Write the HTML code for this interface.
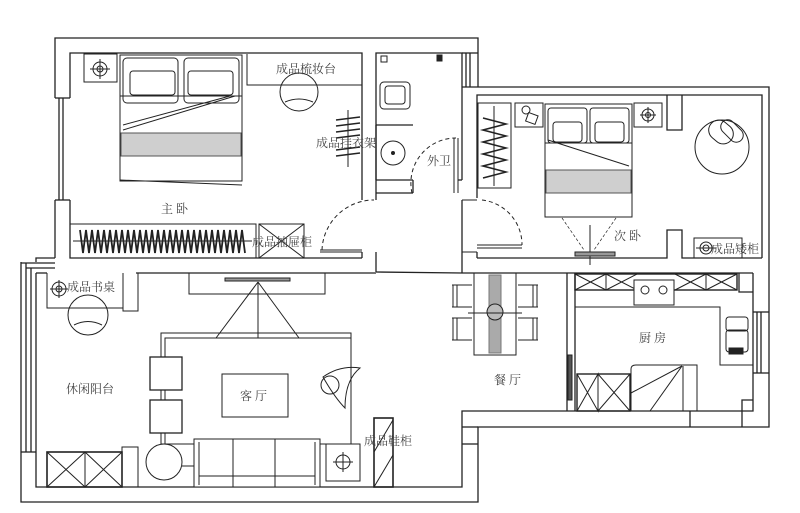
<!DOCTYPE html>
<html><head><meta charset="utf-8"><style>
html,body{margin:0;padding:0;background:#fff;}
svg{display:block;}
text{font-family:"Liberation Serif","Noto Serif CJK SC","Noto Sans CJK SC",serif;font-size:12px;fill:#444;}
</style></head><body>
<svg width="800" height="513" viewBox="0 0 800 513" xmlns="http://www.w3.org/2000/svg">
<g fill="none" stroke="#222" stroke-width="1.3">
<!-- master bedroom / bathroom outer -->
<polyline points="55,98 55,38 478,38 478,87"/>
<polyline points="70,98 70,53 362,53 362,200"/>
<line x1="362" y1="252" x2="362" y2="258"/>
<polyline points="70,200 70,258 362,258"/>
<polyline points="55,200 55,258"/>
<line x1="55" y1="98" x2="70" y2="98"/><line x1="55" y1="200" x2="70" y2="200"/>
<line x1="59" y1="98" x2="59" y2="200"/><line x1="63" y1="98" x2="63" y2="200"/>
<!-- bathroom -->
<polyline points="376,200 376,53 462,53 462,87"/>
<line x1="376" y1="252" x2="376" y2="272"/>
<line x1="376" y1="180" x2="413" y2="180"/>
<line x1="376" y1="193" x2="413" y2="193"/>
<line x1="413" y1="180" x2="413" y2="193"/>
<line x1="462" y1="53" x2="478" y2="53"/>
<line x1="466" y1="53" x2="466" y2="87"/><line x1="470" y1="53" x2="470" y2="87"/>
<line x1="376" y1="125" x2="413" y2="125"/><line x1="376" y1="180" x2="376" y2="125"/>
<!-- second bedroom -->
<polyline points="462,87 769,87 769,268"/>
<polyline points="477,198 477,95 682,95"/>
<line x1="462" y1="87" x2="462" y2="180"/>
<line x1="462" y1="200" x2="462" y2="273"/>
<line x1="477" y1="252" x2="477" y2="258"/>
<polyline points="667,95 667,130 682,130 682,95"/>
<polyline points="682,95 682,95 762,95 762,258"/>
<polyline points="477,258 667,258 667,230 682,230 682,258 762,258"/>
<line x1="458" y1="180" x2="462" y2="180"/>
<!-- master bottom / living top -->
<polyline points="36,262 36,258 55,258"/>
<polyline points="136,273 376,273"/>
<polyline points="36,273 47,273"/>
<polyline points="376,272 462,273"/>
<!-- living outer -->
<polyline points="21,262 21,502 478,502 478,427 769,427 769,268"/>
<polyline points="36,273 36,487 462,487 462,411 753,411 753,273"/>
<line x1="21" y1="452" x2="36" y2="452"/>
<line x1="26" y1="263" x2="26" y2="452"/><line x1="31" y1="268" x2="31" y2="452"/>
<line x1="21" y1="263" x2="55" y2="263"/><line x1="26" y1="268" x2="55" y2="268"/>
<line x1="462" y1="444" x2="478" y2="444"/><line x1="462" y1="427" x2="478" y2="427"/>
<!-- kitchen -->
<line x1="462" y1="273" x2="753" y2="273"/>
<line x1="567" y1="273" x2="567" y2="411"/><line x1="575" y1="273" x2="575" y2="411"/>
<line x1="753" y1="312" x2="769" y2="312"/><line x1="753" y1="373" x2="769" y2="373"/>
<line x1="757" y1="312" x2="757" y2="373"/><line x1="761" y1="312" x2="761" y2="373"/>
<line x1="690" y1="411" x2="690" y2="427"/><line x1="742" y1="411" x2="742" y2="427"/>
<polyline points="742,411 742,400 753,400"/>
<polyline points="739,273 739,292 753,292"/>
</g>

<g fill="none" stroke="#222" stroke-width="1">
<!-- master nightstand -->
<rect x="84" y="54" width="33" height="28"/>
<circle cx="100" cy="69" r="7"/><circle cx="100" cy="69" r="3"/>
<line x1="90" y1="69" x2="110" y2="69"/><line x1="100" y1="59" x2="100" y2="79"/>
<!-- master bed -->
<rect x="120" y="55" width="122" height="126"/>
<rect x="123" y="58" width="55" height="45" rx="4"/><rect x="184" y="58" width="55" height="45" rx="4"/>
<rect x="130" y="71" width="45" height="24" rx="3"/><rect x="188" y="71" width="45" height="24" rx="3"/>
<line x1="120" y1="96" x2="242" y2="96"/>
<line x1="123" y1="130" x2="235" y2="96"/><line x1="123" y1="125" x2="230" y2="96"/>
<rect x="121" y="133" width="120" height="23" fill="#cfcfcf" stroke="#555"/>
<line x1="120" y1="180" x2="242" y2="185"/>
<!-- dressing table -->
<polyline points="247,54 247,85 362,85"/>
<circle cx="299" cy="92" r="19"/>
<path d="M285,102 Q299,96 313,102"/>
<!-- clothes rack -->
<line x1="348" y1="110" x2="348" y2="167"/>
<g stroke-width="1.6">
<line x1="336" y1="120" x2="360" y2="117"/><line x1="336" y1="126" x2="360" y2="123"/>
<line x1="336" y1="132" x2="360" y2="129"/><line x1="336" y1="138" x2="360" y2="135"/>
<line x1="336" y1="150" x2="360" y2="147"/><line x1="336" y1="156" x2="360" y2="153"/>
</g>
<!-- wardrobe -->
<rect x="70" y="224" width="186" height="34"/>
<line x1="73" y1="241" x2="252" y2="241"/>
<path d="M80,230 L83,253 L86,230 L89,253 L92,230 L95,253 L98,230 L101,253 L104,230 L107,253 L110,230 L113,253 L116,230 L119,253 L122,230 L125,253 L128,230 L131,253 L134,230 L137,253 L140,230 L143,253 L146,230 L149,253 L152,230 L155,253 L158,230 L161,253 L164,230 L167,253 L170,230 L173,253 L176,230 L179,253 L182,230 L185,253 L188,230 L191,253 L194,230 L197,253 L200,230 L203,253 L206,230 L209,253 L212,230 L215,253 L218,230 L221,253 L224,230 L227,253 L230,230 L233,253 L236,230 L239,253 L242,230 L245,253" stroke-width="1.8"/>
<rect x="259" y="224" width="45" height="34"/>
<line x1="259" y1="224" x2="304" y2="258"/><line x1="304" y1="224" x2="259" y2="258"/>
<!-- master door -->
<path d="M322,250 A52,52 0 0 1 374,200" stroke-dasharray="4,3"/>
<line x1="320" y1="250" x2="362" y2="250"/><line x1="320" y1="252" x2="362" y2="252"/>
<!-- bathroom fixtures -->
<rect x="380" y="82" width="30" height="27" rx="4"/>
<rect x="385" y="86" width="20" height="18" rx="3"/>
<circle cx="393" cy="153" r="12"/><circle cx="393" cy="153" r="1.5" fill="#222"/>
<rect x="437" y="55" width="5" height="6" fill="#222"/>
<rect x="381" y="56" width="6" height="6"/>
<path d="M412,193 A45,45 0 0 1 456,138" stroke-dasharray="4,3"/>
<line x1="454" y1="138" x2="454" y2="193"/><line x1="458" y1="138" x2="458" y2="193"/>
<!-- 2nd bedroom wardrobe -->
<rect x="478" y="103" width="33" height="85"/>
<line x1="494" y1="106" x2="494" y2="186"/>
<path d="M483,118 L506,124 L483,130 L506,136 L483,142 L506,148 L483,154 L506,160 L483,166 L506,172 L483,178" stroke-width="1.6"/>
<rect x="515" y="103" width="28" height="24"/>
<circle cx="526" cy="110" r="4"/>
<rect x="527" y="114" width="10" height="9" transform="rotate(20 532 118)"/>
<rect x="545" y="104" width="87" height="113"/>
<rect x="548" y="108" width="39" height="35" rx="3"/><rect x="590" y="108" width="39" height="35" rx="3"/>
<rect x="553" y="122" width="29" height="20" rx="3"/><rect x="595" y="122" width="29" height="20" rx="3"/>
<line x1="545" y1="143" x2="632" y2="143"/>
<line x1="548" y1="140" x2="629" y2="166"/>
<rect x="546" y="170" width="85" height="23" fill="#cfcfcf" stroke="#555"/>
<rect x="634" y="103" width="28" height="24"/>
<circle cx="648" cy="115" r="6"/><circle cx="648" cy="115" r="2.5"/>
<line x1="640" y1="115" x2="656" y2="115"/><line x1="648" y1="107" x2="648" y2="123"/>
<line x1="562" y1="218" x2="584" y2="250" stroke-dasharray="3,2" stroke-width=".7"/>
<line x1="616" y1="218" x2="594" y2="250" stroke-dasharray="3,2" stroke-width=".7"/>
<line x1="590" y1="225" x2="590" y2="265"/>
<rect x="575" y="252" width="40" height="4" fill="#999"/>
<!-- armchair -->
<circle cx="722" cy="147" r="27"/>
<rect x="708" y="122" width="26" height="20" rx="10" transform="rotate(40 721 132)"/>
<rect x="725" y="118" width="14" height="26" rx="7" transform="rotate(-45 732 131)"/>
<!-- low cabinet -->
<rect x="694" y="238" width="48" height="20"/>
<circle cx="706" cy="248" r="6"/><circle cx="706" cy="248" r="3"/>
<line x1="696" y1="248" x2="716" y2="248"/>
<!-- 2nd bedroom door -->
<path d="M482,200 A45,45 0 0 1 522,245" stroke-dasharray="4,3"/>
<line x1="477" y1="245" x2="522" y2="245"/><line x1="477" y1="248" x2="522" y2="248"/>
<line x1="462" y1="200" x2="477" y2="200"/><line x1="462" y1="252" x2="477" y2="252"/>
<!-- dining -->
<rect x="474" y="273" width="42" height="82"/>
<rect x="489" y="275" width="12" height="78" fill="#aaa" stroke="#777"/>
<circle cx="495" cy="312" r="8" fill="#bbb"/>
<line x1="468" y1="313" x2="522" y2="313"/>
<path d="M452,285 H472 M452,307 H472 M453,285 V307 M457,285 V307"/>
<path d="M452,318 H472 M452,340 H472 M453,318 V340 M457,318 V340"/>
<path d="M538,285 H518 M538,307 H518 M537,285 V307 M533,285 V307"/>
<path d="M538,318 H518 M538,340 H518 M537,318 V340 M533,318 V340"/>
<!-- kitchen furniture -->
<rect x="575" y="274" width="162" height="16" stroke-width="1.4"/>
<path d="M575,274 L606,290 L637,274 M575,290 L606,274 L637,290 M675,274 L706,290 L737,274 M675,290 L706,274 L737,290"/>
<line x1="606" y1="274" x2="606" y2="290"/><line x1="706" y1="274" x2="706" y2="290"/>
<rect x="634" y="280" width="40" height="25" fill="#fff"/>
<circle cx="645" cy="290" r="4"/><circle cx="663" cy="290" r="4"/>
<polyline points="575,307 720,307 720,365 753,365"/>
<rect x="726" y="317" width="22" height="14" rx="3"/>
<rect x="726" y="330" width="22" height="22" rx="3"/>
<rect x="729" y="348" width="14" height="6" fill="#222"/>
<rect x="577" y="374" width="53" height="37" stroke-width="1.4"/>
<path d="M577,374 L598,411 L598,374 L577,411 M598,374 L630,411 M630,374 L598,411"/>
<path d="M631,411 V369 Q631,365 636,365 H697 V411"/>
<line x1="631" y1="393" x2="682" y2="366"/><line x1="650" y1="411" x2="682" y2="366"/>
<line x1="683" y1="366" x2="683" y2="411"/>
<rect x="568" y="355" width="4" height="45" fill="#555"/>
<!-- study desk -->
<polyline points="47,273 47,308 123,308 123,273"/>
<polyline points="123,273 123,311 138,311 138,273"/>
<circle cx="59" cy="289" r="7"/><circle cx="59" cy="289" r="3"/>
<line x1="50" y1="289" x2="68" y2="289"/><line x1="59" y1="280" x2="59" y2="298"/>
<circle cx="88" cy="315" r="20"/>
<path d="M74,325 Q88,318 102,325"/>
<!-- TV wall / living -->
<rect x="189" y="273" width="136" height="21"/>
<rect x="225" y="278" width="65" height="3" fill="#999"/>
<line x1="258" y1="282" x2="216" y2="338"/><line x1="258" y1="282" x2="258" y2="338"/><line x1="258" y1="282" x2="299" y2="338"/>
<rect x="161" y="333" width="190" height="111"/>
<rect x="165" y="338" width="186" height="106"/>
<rect x="150" y="357" width="32" height="33" fill="#fff" stroke-width="1.3"/>
<rect x="150" y="400" width="32" height="33" fill="#fff" stroke-width="1.3"/>
<rect x="222" y="374" width="66" height="43" fill="#fff"/>
<circle cx="164" cy="462" r="18" fill="#fff"/>
<line x1="182" y1="466" x2="194" y2="466"/>
<rect x="194" y="439" width="126" height="48" fill="#fff"/>
<line x1="199" y1="442" x2="199" y2="485"/><line x1="315" y1="442" x2="315" y2="485"/>
<line x1="199" y1="476" x2="315" y2="476"/>
<line x1="233" y1="439" x2="233" y2="487"/><line x1="275" y1="439" x2="275" y2="487"/>
<rect x="326" y="444" width="34" height="37" fill="#fff"/>
<circle cx="343" cy="462" r="7"/>
<line x1="333" y1="462" x2="353" y2="462"/><line x1="343" y1="452" x2="343" y2="472"/>
<path d="M323,377 Q340,365 360,368 Q345,380 345,408 Q335,398 323,377 Z"/>
<circle cx="330" cy="385" r="9"/>
<rect x="374" y="418" width="19" height="69" stroke-width="1.6"/>
<line x1="374" y1="452" x2="393" y2="420"/><line x1="374" y1="487" x2="393" y2="455"/>
<rect x="47" y="452" width="75" height="35" stroke-width="1.6"/>
<line x1="85" y1="452" x2="85" y2="487"/>
<path d="M47,452 L85,487 M85,452 L47,487 M85,452 L122,487 M122,452 L85,487"/>
<polyline points="122,487 122,447 138,447 138,487"/>
</g>

<g>
<text x="276" y="73">成品梳妆台</text>
<text x="316" y="147">成品挂衣架</text>
<text x="161" y="213">主 卧</text>
<text x="252" y="246">成品抽屉柜</text>
<text x="427" y="165">外卫</text>
<text x="614" y="240">次 卧</text>
<text x="711" y="253">成品矮柜</text>
<text x="67" y="291">成品书桌</text>
<text x="66" y="393">休闲阳台</text>
<text x="240" y="400">客 厅</text>
<text x="364" y="445">成品鞋柜</text>
<text x="494" y="384">餐 厅</text>
<text x="639" y="342">厨 房</text>
</g>
</svg>
</body></html>
